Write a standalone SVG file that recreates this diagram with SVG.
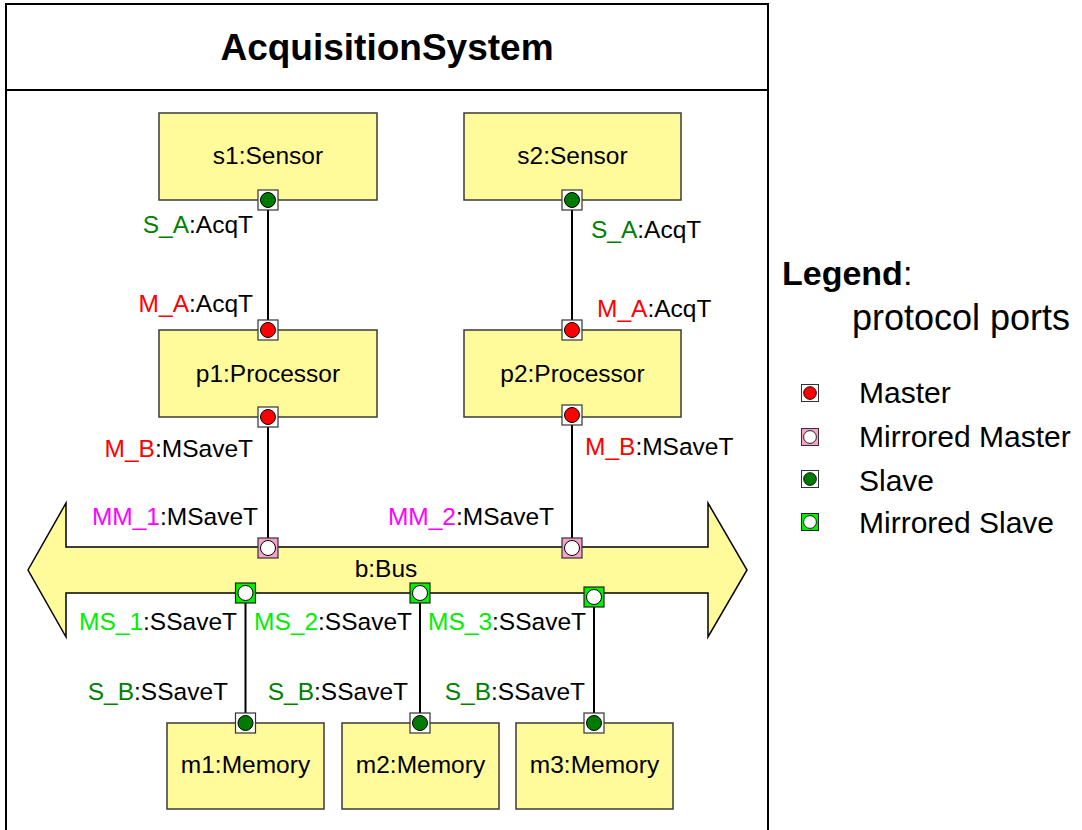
<svg xmlns="http://www.w3.org/2000/svg" xmlns:xlink="http://www.w3.org/1999/xlink" width="1082" height="830" viewBox="0 0 1082 830">
<style>
text{font-family:"Liberation Sans",Arial,sans-serif;fill:#000}
.t{font-size:24.5px}
.box{fill:#FFFB9B;stroke:#3a3a3a;stroke-width:1.5}
.conn{stroke:#000;stroke-width:2;fill:none}
.red{fill:#FF0000}
.dg{fill:#008000}
.mag{fill:#FF00FF}
.lg{fill:#00EE00}
.leg{font-size:30px}
</style>
<defs>
<g id="pM"><rect x="-10" y="-10" width="20" height="20" fill="#fff" stroke="#333" stroke-width="1.2"/><circle r="7.5" fill="#FF0000" stroke="#000" stroke-width="1"/></g>
<g id="pS"><rect x="-10" y="-10" width="20" height="20" fill="#fff" stroke="#333" stroke-width="1.2"/><circle r="7.5" fill="#007A00" stroke="#000" stroke-width="1"/></g>
<g id="pMM"><rect x="-10" y="-10" width="20" height="20" fill="#F7A1CC" stroke="#333" stroke-width="1.2"/><circle r="7.5" fill="#fff" stroke="#000" stroke-width="1"/></g>
<g id="pMS"><rect x="-10" y="-10" width="20" height="20" fill="#00F000" stroke="#222" stroke-width="1.2"/><circle r="7.5" fill="#fff" stroke="#000" stroke-width="1"/></g>
</defs>
<rect width="1082" height="830" fill="#fff"/>
<g id="frame">
<path d="M6 832 V4 H768 V832" fill="none" stroke="#000" stroke-width="2"/>
<line x1="6" y1="90" x2="768" y2="90" stroke="#000" stroke-width="2"/>
<text x="387" y="60" text-anchor="middle" font-size="37" font-weight="bold">AcquisitionSystem</text>
</g>
<g id="connectors">
<line class="conn" x1="268" y1="200" x2="268" y2="330"/>
<line class="conn" x1="572" y1="200" x2="572" y2="330"/>
<line class="conn" x1="268" y1="417" x2="268" y2="548"/>
<line class="conn" x1="572" y1="417" x2="572" y2="548"/>
<line class="conn" x1="245.5" y1="593" x2="245.5" y2="723"/>
<line class="conn" x1="420" y1="593" x2="420" y2="723"/>
<line class="conn" x1="594" y1="597" x2="594" y2="723"/>
</g>
<g id="s1">
<rect class="box" x="159" y="113" width="218" height="87"/>
<text class="t" x="268" y="164" text-anchor="middle">s1:Sensor</text>
<use xlink:href="#pS" x="268" y="200"/>
<text class="t" x="253" y="233" text-anchor="end"><tspan class="dg">S_A</tspan>:AcqT</text>
</g>
<g id="s2">
<rect class="box" x="464" y="113" width="217" height="87"/>
<text class="t" x="572.5" y="164" text-anchor="middle">s2:Sensor</text>
<use xlink:href="#pS" x="572" y="200"/>
<text class="t" x="591" y="238"><tspan class="dg">S_A</tspan>:AcqT</text>
</g>
<g id="p1">
<rect class="box" x="159" y="330" width="218" height="87"/>
<text class="t" x="268" y="382" text-anchor="middle">p1:Processor</text>
<use xlink:href="#pM" x="268" y="330"/>
<use xlink:href="#pM" x="268" y="417"/>
<text class="t" x="253" y="312" text-anchor="end"><tspan class="red">M_A</tspan>:AcqT</text>
<text class="t" x="253" y="457" text-anchor="end"><tspan class="red">M_B</tspan>:MSaveT</text>
</g>
<g id="p2">
<rect class="box" x="464" y="330" width="217" height="87"/>
<text class="t" x="572.5" y="382" text-anchor="middle">p2:Processor</text>
<use xlink:href="#pM" x="572" y="330"/>
<use xlink:href="#pM" x="572" y="415"/>
<text class="t" x="597" y="317"><tspan class="red">M_A</tspan>:AcqT</text>
<text class="t" x="585" y="455"><tspan class="red">M_B</tspan>:MSaveT</text>
</g>
<g id="bus">
<polygon points="28,570 66,503 66,547 708,547 708,503 747,570 708,637 708,593 66,593 66,637" fill="#FFFB9B" stroke="#000" stroke-width="1.5"/>
<text class="t" x="386" y="577" text-anchor="middle">b:Bus</text>
<use xlink:href="#pMM" x="268" y="548"/>
<use xlink:href="#pMM" x="572" y="548"/>
<use xlink:href="#pMS" x="245.5" y="593"/>
<use xlink:href="#pMS" x="420" y="593"/>
<use xlink:href="#pMS" x="594" y="597"/>
<text class="t" x="258" y="525" text-anchor="end"><tspan class="mag">MM_1</tspan>:MSaveT</text>
<text class="t" x="554" y="525" text-anchor="end"><tspan class="mag">MM_2</tspan>:MSaveT</text>
<text class="t" x="237" y="630" text-anchor="end"><tspan class="lg">MS_1</tspan>:SSaveT</text>
<text class="t" x="254" y="630"><tspan class="lg">MS_2</tspan>:SSaveT</text>
<text class="t" x="428" y="630"><tspan class="lg">MS_3</tspan>:SSaveT</text>
</g>
<g id="m1">
<rect class="box" x="167" y="723" width="157" height="86"/>
<text class="t" x="245.5" y="773" text-anchor="middle">m1:Memory</text>
<use xlink:href="#pS" x="245.5" y="723"/>
<text class="t" x="228" y="700" text-anchor="end"><tspan class="dg">S_B</tspan>:SSaveT</text>
</g>
<g id="m2">
<rect class="box" x="342" y="723" width="157" height="86"/>
<text class="t" x="420.5" y="773" text-anchor="middle">m2:Memory</text>
<use xlink:href="#pS" x="420" y="723"/>
<text class="t" x="408" y="700" text-anchor="end"><tspan class="dg">S_B</tspan>:SSaveT</text>
</g>
<g id="m3">
<rect class="box" x="516" y="723" width="157" height="86"/>
<text class="t" x="594.5" y="773" text-anchor="middle">m3:Memory</text>
<use xlink:href="#pS" x="594" y="723"/>
<text class="t" x="585" y="700" text-anchor="end"><tspan class="dg">S_B</tspan>:SSaveT</text>
</g>
<g id="legend">
<text x="782" y="285" font-size="34"><tspan font-weight="bold">Legend</tspan>:</text>
<text x="852" y="330" font-size="36">protocol ports</text>
<use xlink:href="#pM" transform="translate(810,393) scale(0.85)"/>
<use xlink:href="#pMM" transform="translate(810,437) scale(0.85)"/>
<use xlink:href="#pS" transform="translate(810,479) scale(0.85)"/>
<use xlink:href="#pMS" transform="translate(810,522) scale(0.85)"/>
<text class="leg" x="859" y="403">Master</text>
<text class="leg" x="859" y="447">Mirrored Master</text>
<text class="leg" x="859" y="491">Slave</text>
<text class="leg" x="859" y="533">Mirrored Slave</text>
</g>
</svg>
